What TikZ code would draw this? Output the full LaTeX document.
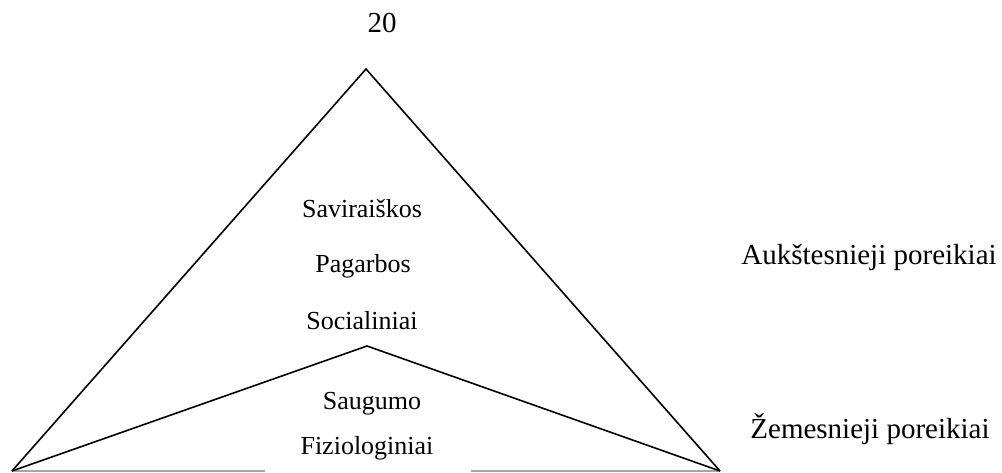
\documentclass[tikz,border=0pt]{standalone}
\usepackage{fontspec}
\setmainfont{Liberation Serif}
\begin{document}
\begin{tikzpicture}[x=1pt,y=-1pt,
  edge/.style={line width=1.6pt,black},
  baseline/.style={line width=1.3pt,gray!70},
  inner/.style={font=\fontsize{26}{30}\selectfont,inner sep=0pt},
  outer/.style={font=\fontsize{29}{33}\selectfont,inner sep=0pt}]
\useasboundingbox (0,0) rectangle (1002,473);
\coordinate (apex) at (366,69);
\coordinate (L) at (12,471);
\coordinate (R) at (720,471);
\coordinate (peak) at (367,346);
\coordinate (gapL) at (265,471);
\coordinate (gapR) at (471,471);
\draw[baseline] (L) -- (gapL);
\draw[baseline] (gapR) -- (R);
\draw[edge,line join=miter] (L) -- (apex) -- (R);
\draw[edge,line join=miter] (L) -- (peak) -- (R);
\node[outer] (n20) at (382,23) {20};
\node[inner] (sav) at (362,209) {Saviraiškos};
\node[inner] (pag) at (363,266) {Pagarbos};
\node[inner] (soc) at (362,321) {Socialiniai};
\node[inner] (sau) at (372,404) {Saugumo};
\node[inner] (fiz) at (367,448) {Fiziologiniai};
\node[outer] (auk) at (869,257) {Aukštesnieji poreikiai};
\node[outer] (zem) at (870,429) {Žemesnieji poreikiai};
\end{tikzpicture}
\end{document}
